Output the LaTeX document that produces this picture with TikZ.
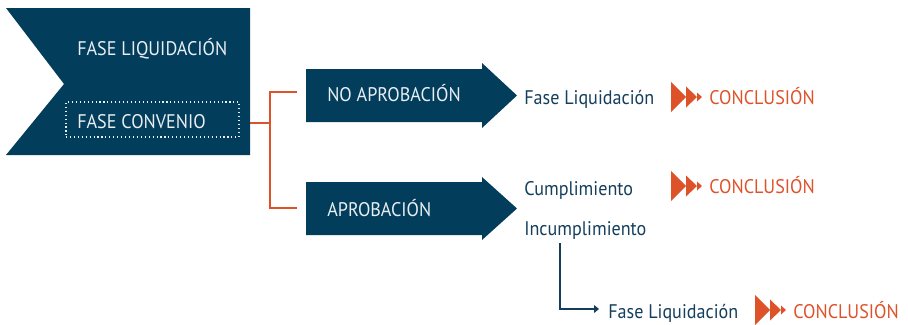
\documentclass[tikz,border=0pt]{standalone}
\usepackage{fontspec}
\setmainfont{PT Sans}[FakeStretch=0.92]
\usetikzlibrary{arrows.meta}

\definecolor{navy}{RGB}{3,61,92}
\definecolor{rust}{RGB}{222,82,42}
\definecolor{ink}{RGB}{20,62,92}
\definecolor{paper}{RGB}{232,238,242}

\tikzset{
	boxtext/.style={text=paper, anchor=base west, inner sep=0pt, font=\fontsize{14}{16}\selectfont},
	plaintext/.style={text=ink, anchor=base west, inner sep=0pt, font=\fontsize{14}{16}\selectfont},
	endtext/.style={text=rust, anchor=base west, inner sep=0pt, font=\fontsize{14}{16}\selectfont},
	convframe/.style={draw=paper, dotted, line width=0.8pt, minimum width=4.325cm, minimum height=0.875cm},
	fork/.style={draw=rust, line width=0.8pt},
	drop/.style={draw=ink, line width=0.8pt, -{Triangle[length=3.5pt, width=5.5pt]}},
	ffwd/.pic={
		\fill[rust] (0,-15) -- (15,0) -- (0,15) -- cycle;
		\fill[rust] (15,-10.5) -- (26,0) -- (15,10.5) -- cycle;
		\fill[rust] (26,-4.5) -- (31,0) -- (26,4.5) -- cycle;
	}
}

\begin{document}
\begin{tikzpicture}[x=0.025cm, y=-0.025cm]
	\useasboundingbox (0,0) rectangle (908,324);
	% Shapes:
	\fill[navy] (6,8) -- (250,8) -- (250,155) -- (6,155) -- (64,84) -- cycle;
	\fill[navy] (306,69) -- (482,69) -- (482,63) -- (517,95.5) -- (482,128) -- (482,122) -- (306,122) -- cycle;
	\fill[navy] (306,182) -- (482,182) -- (482,177) -- (517,208.5) -- (482,240) -- (482,235) -- (306,235) -- cycle;
	% Nodes:
	\node[boxtext] (liq) at (77,55) {FASE LIQUIDACIÓN};
	\node[convframe] (convframe) at (152.5,119.5) {};
	\node[boxtext] (conv) at (77,128) {FASE CONVENIO};
	\node[boxtext] (noap) at (327,101) {NO APROBACIÓN};
	\node[boxtext] (ap) at (327,216) {APROBACIÓN};
	\node[plaintext] (fl1) at (524,104) {Fase Liquidación};
	\node[plaintext] (cump) at (524,195) {Cumplimiento};
	\node[plaintext] (incump) at (524,235) {Incumplimiento};
	\node[plaintext] (fl2) at (608,318) {Fase Liquidación};
	\pic at (671,97) {ffwd};
	\node[endtext] (concl1) at (709,104) {CONCLUSIÓN};
	\pic at (671,186) {ffwd};
	\node[endtext] (concl2) at (709,193) {CONCLUSIÓN};
	\pic at (755,310) {ffwd};
	\node[endtext] (concl3) at (793,318) {CONCLUSIÓN};
	% Wires:
	\coordinate (chev-e) at (250,123);
	\coordinate (noap-in) at (297,92);
	\coordinate (ap-in) at (297,208);
	\coordinate (inc-drop) at (560,243);
	\coordinate (fl2-in) at (599,309);
	\draw[fork] (chev-e) -- ++(20,0) coordinate (split);
	\draw[fork] (split) |- (noap-in);
	\draw[fork] (split) |- (ap-in);
	\draw[drop] (inc-drop) |- (fl2-in);
\end{tikzpicture}
\end{document}
